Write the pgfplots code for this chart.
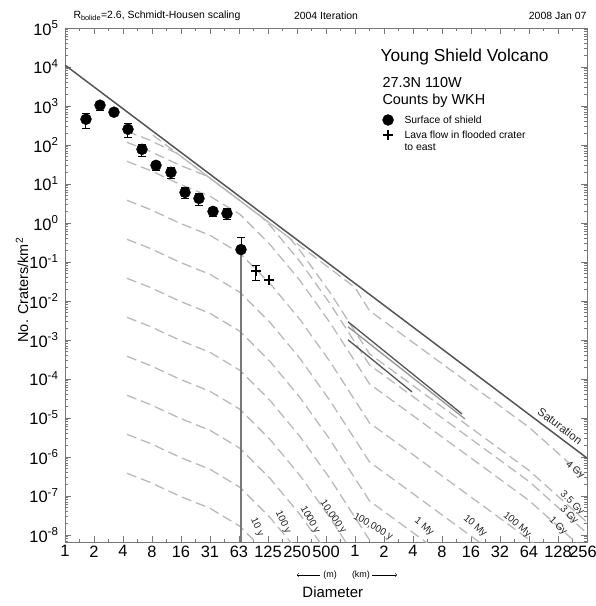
\documentclass[border=0pt]{standalone}
\usepackage{fontspec}
\setmainfont{Liberation Sans}
\usepackage{pgfplots}
\usepackage{pgfplotstable}
\pgfplotsset{compat=1.18}
\definecolor{isogray}{RGB}{185,185,185}
\definecolor{framegray}{RGB}{120,120,120}
\definecolor{satgray}{RGB}{85,85,85}

% surface of shield: D (km), N (per km^2), error plus / minus
\pgfplotstableread{
D N ep em
0.001613 458 197 197
0.002255 1049 280 280
0.003150 693 130 130
0.004401 253 101 101
0.006152 77.5 27.5 27.5
0.008596 30.1 7.8 7.8
0.01230 19.9 6.25 6.25
0.01720 6.08 1.91 1.91
0.02402 4.26 1.38 1.38
0.03357 1.98 0.49 0.49
0.04691 1.75 0.535 0.535
0.06557 0.208 0.208 0
}\shield

% lava flow in flooded crater
\pgfplotstableread{
D N ep em
0.09316 0.0577 0.024 0.024
}\lavaA
\pgfplotstableread{
D N
0.1289 0.0353
}\lavaB

\begin{document}
\begin{tikzpicture}
\begin{axis}[
  scale only axis,
  width=522bp, height=514bp,
  xmode=log, ymode=log,
  xmin=0.0009765625, xmax=256,
  ymin=6.6e-9, ymax=1e5,
  clip mode=individual,
  axis line style={framegray, line width=0.8bp},
  every tick/.style={framegray, line width=0.6bp},
  major tick length=6bp, minor tick length=3bp,
  xtick={0.0009765625,0.001953125,0.00390625,0.0078125,0.015625,0.03125,0.0625,0.125,0.25,0.5,1,2,4,8,16,32,64,128,256},
  xticklabels={1,2,4,8,16,31,63,125,250,500,1,2,4,8,16,32,64,128,{\kern-8bp 256}},
  minor xtick={0.0013810679,0.0027621359,0.0055242717,0.0110485435,0.0220970869,0.0441941738,0.0883883476,0.1767766953,0.3535533906,0.7071067812,1.4142135624,2.8284271247,5.6568542495,11.313708499,22.627416998,45.254833996,90.509667992,181.01933598},
  ytick={1e-8,1e-7,1e-6,1e-5,1e-4,1e-3,1e-2,1e-1,1,10,100,1000,1e4,1e5},
  minor ytick={7e-9,8e-9,9e-9,
    2e-8,3e-8,4e-8,5e-8,6e-8,7e-8,8e-8,9e-8,
    2e-7,3e-7,4e-7,5e-7,6e-7,7e-7,8e-7,9e-7,
    2e-6,3e-6,4e-6,5e-6,6e-6,7e-6,8e-6,9e-6,
    2e-5,3e-5,4e-5,5e-5,6e-5,7e-5,8e-5,9e-5,
    2e-4,3e-4,4e-4,5e-4,6e-4,7e-4,8e-4,9e-4,
    2e-3,3e-3,4e-3,5e-3,6e-3,7e-3,8e-3,9e-3,
    0.02,0.03,0.04,0.05,0.06,0.07,0.08,0.09,
    0.2,0.3,0.4,0.5,0.6,0.7,0.8,0.9,
    2,3,4,5,6,7,8,9,
    20,30,40,50,60,70,80,90,
    200,300,400,500,600,700,800,900,
    2000,3000,4000,5000,6000,7000,8000,9000,
    2e4,3e4,4e4,5e4,6e4,7e4,8e4,9e4},
  yticklabels={10\textsuperscript{-8},10\textsuperscript{-7},10\textsuperscript{-6},10\textsuperscript{-5},10\textsuperscript{-4},10\textsuperscript{-3},10\textsuperscript{-2},10\textsuperscript{-1},10\textsuperscript{0},10\textsuperscript{1},10\textsuperscript{2},10\textsuperscript{3},10\textsuperscript{4},10\textsuperscript{5}},
  ticklabel style={font=\fontsize{16.5}{18}\selectfont, text=black},
  yticklabel style={xshift=-3bp},
  legend style={at={(rel axis cs:0.608,0.8327)}, anchor=north west, draw=none, fill=none,
    inner sep=0pt, font=\fontsize{10.4}{12}\selectfont, row sep=1bp, column sep=9bp,
    cells={anchor=base west}},
  legend image code/.code={\draw[#1] plot coordinates {(0bp,3.7bp)};},
  iso/.style={isogray, line width=1.3bp, dash pattern=on 10bp off 5bp, forget plot},
]

% isochrons
\addplot[iso] coordinates {(0.004298,3.811e-7) (0.007448,2.237e-7) (0.015256,9.824e-8) (0.03125,4.829e-8) (0.064013,1.664e-8) (0.131125,2.818e-9)}; % 10 y
\addplot[iso] coordinates {(0.004298,3.811e-6) (0.007448,2.237e-6) (0.015256,9.824e-7) (0.03125,4.829e-7) (0.064013,1.664e-7) (0.131125,2.818e-8) (0.268575,3.344e-9)}; % 100 y
\addplot[iso] coordinates {(0.004298,3.811e-5) (0.007448,2.237e-5) (0.015256,9.824e-6) (0.03125,4.829e-6) (0.064013,1.664e-6) (0.131125,2.818e-7) (0.268575,3.344e-8) (0.55015,2.784e-9)}; % 1000 y
\addplot[iso] coordinates {(0.004298,3.811e-4) (0.007448,2.237e-4) (0.015256,9.824e-5) (0.03125,4.829e-5) (0.064013,1.664e-5) (0.131125,2.818e-6) (0.268575,3.344e-7) (0.55015,2.784e-8) (1,2.818e-9)}; % 10,000 y
\addplot[iso] coordinates {(0.004298,3.811e-3) (0.007448,2.237e-3) (0.015256,9.824e-4) (0.03125,4.829e-4) (0.064013,1.664e-4) (0.131125,2.818e-5) (0.268575,3.344e-6) (0.55015,2.784e-7) (1,2.818e-8) (1.414214,7.482e-9) (2.9314,2.011e-9)}; % 100,000 y
\addplot[iso] coordinates {(0.004298,0.03811) (0.007448,0.02237) (0.015256,9.824e-3) (0.03125,4.829e-3) (0.064013,1.664e-3) (0.131125,2.818e-4) (0.268575,3.344e-5) (0.55015,2.784e-6) (1,2.818e-7) (1.414214,7.482e-8) (2.9314,2.011e-8) (9.6856,2.317e-9)}; % 1 My
\addplot[iso] coordinates {(0.004298,0.3811) (0.007448,0.2237) (0.015256,0.09824) (0.03125,0.04829) (0.064013,0.01664) (0.131125,2.818e-3) (0.268575,3.344e-4) (0.55015,2.784e-5) (1,2.818e-6) (1.414214,7.482e-7) (2.9314,2.011e-7) (9.6856,2.317e-8) (32,2.687e-9)}; % 10 My
\addplot[iso] coordinates {(0.004298,3.811) (0.007448,2.237) (0.015256,0.9824) (0.03125,0.4829) (0.064013,0.1664) (0.131125,0.02818) (0.268575,3.344e-3) (0.55015,2.784e-4) (1,2.818e-5) (1.414214,7.482e-6) (2.9314,2.011e-6) (9.6856,2.317e-7) (32,2.687e-8) (64,7.661e-9) (134.27,1.495e-9)}; % 100 My
\addplot[iso] coordinates {(0.004298,38.11) (0.007448,22.37) (0.015256,9.824) (0.03125,4.829) (0.064013,1.664) (0.131125,0.2818) (0.268575,0.03344) (0.55015,2.784e-3) (1,2.818e-4) (1.414214,7.482e-5) (2.9314,2.011e-5) (9.6856,2.317e-6) (32,2.687e-7) (64,7.661e-8) (134.27,1.495e-8) (256,3.592e-9)}; % 1 Gy
\addplot[iso] coordinates {(0.004298,117.3) (0.007448,68.86) (0.015256,30.22) (0.02948,15.74) (0.03125,14.13) (0.064013,3.722) (0.10719,1.427) (0.131125,0.8669) (0.268575,0.1029) (0.55015,8.566e-3) (1,8.669e-4) (1.414214,2.301e-4) (2.9314,6.185e-5) (9.6856,7.129e-6) (32,8.267e-7) (64,2.357e-7) (134.27,4.601e-8) (256,1.105e-8)}; % 3 Gy
\addplot[iso] coordinates {(0.004298,225.0) (0.007448,132.1) (0.01423,61.00) (0.015256,53.58) (0.03125,14.13) (0.064013,3.722) (0.131125,0.9808) (0.21068,0.4062) (0.268575,0.1974) (0.55015,0.01643) (1,1.663e-3) (1.414214,4.416e-4) (2.9314,1.187e-4) (9.6856,1.368e-5) (32,1.586e-6) (64,4.521e-7) (134.27,8.829e-8) (256,2.12e-8)}; % 3.5 Gy
\addplot[iso] coordinates {(0.007977,178.9) (0.015256,53.58) (0.03125,14.13) (0.064013,3.722) (0.131125,0.9808) (0.268575,0.2585) (0.55015,0.06816) (1,0.0222) (1.414214,5.636e-3) (2.9314,1.515e-3) (9.6856,1.746e-4) (32,2.025e-5) (64,5.772e-6) (134.27,1.127e-6) (256,2.706e-7)}; % 4 Gy

% saturation
\addplot[satgray, line width=1.5bp, forget plot] coordinates {(0.0009765625,11200) (256,9.37e-7)};

% other counts (solid)
\addplot[isogray!80!black, line width=1.3bp, forget plot] coordinates {(0.8459,2.184e-3) (13.862,9.426e-6)};
\addplot[satgray, line width=1.3bp, forget plot] coordinates {(0.8459,2.938e-3) (12.904,1.267e-5)};
\addplot[satgray, line width=1.3bp, forget plot] coordinates {(0.8459,1.012e-3) (3.9056,4.661e-5)};

% lower error of the single-crater bin reaches zero
\addplot[framegray, line width=1.5bp, forget plot] coordinates {(0.06557,6.6e-9) (0.06557,0.208)};

% data
\addplot[only marks, mark=*, mark size=5.5bp, black,
  error bars/.cd, y dir=both, y explicit,
  error bar style={black, line width=1bp},
  error mark options={rotate=90, black, mark size=4bp, line width=1bp}]
  table[x=D, y=N, y error plus=ep, y error minus=em] {\shield};
\addlegendentry{Surface of shield}
\addplot[only marks, mark=+, mark size=5bp, black, line width=2bp,
  error bars/.cd, y dir=both, y explicit,
  error bar style={black, line width=1bp},
  error mark options={rotate=90, black, mark size=4bp, line width=1bp}]
  table[x=D, y=N, y error plus=ep, y error minus=em] {\lavaA};
\addlegendentry{\begin{tabular}[t]{@{}l@{}}Lava flow in flooded crater\\to east\end{tabular}}
\addplot[only marks, mark=+, mark size=5bp, black, line width=2bp, forget plot]
  table[x=D, y=N] {\lavaB};

% texts
\node[anchor=west, font=\fontsize{10.5}{12}\selectfont] at (rel axis cs:0.0096,1.0233) {R\textsubscript{bolide}=2.6, Schmidt-Housen scaling};
\node[font=\fontsize{10.5}{12}\selectfont] at (rel axis cs:0.5,1.0233) {2004 Iteration};
\node[anchor=east, font=\fontsize{10.5}{12}\selectfont] at (rel axis cs:1.0057,1.0233) {2008 Jan 07};
\node[anchor=west, font=\fontsize{17.4}{19}\selectfont] at (rel axis cs:0.5977,0.9436) {Young Shield Volcano};
\node[anchor=west, font=\fontsize{14.5}{16}\selectfont] at (rel axis cs:0.6015,0.893) {27.3N 110W};
\node[anchor=west, font=\fontsize{14.5}{16}\selectfont] at (rel axis cs:0.6015,0.858) {Counts by WKH};
\node[rotate=90, font=\fontsize{14.5}{16}\selectfont] at (rel axis cs:-0.0824,0.49) {No. Craters/km\textsuperscript{2}};

\node[font=\fontsize{15}{17}\selectfont] at (rel axis cs:0.513,-0.0973) {Diameter};
\node[font=\fontsize{9}{10}\selectfont] at (rel axis cs:0.5077,-0.0642) {(m)};
\node[font=\fontsize{9}{10}\selectfont] at (rel axis cs:0.567,-0.0642) {(km)};
\draw[->, black, line width=0.5bp] (rel axis cs:0.4885,-0.0642) -- (rel axis cs:0.4444,-0.0642);
\draw[->, black, line width=0.5bp] (rel axis cs:0.5881,-0.0642) -- (rel axis cs:0.636,-0.0642);

\begin{scope}[every node/.style={font=\fontsize{10}{12}\selectfont, text=black!85, inner sep=1bp}]
\node[rotate=-65] at (rel axis cs:0.3678,0.0292) {10 y};
\node[rotate=-65] at (rel axis cs:0.4176,0.0389) {100 y};
\node[rotate=-60] at (rel axis cs:0.4693,0.0428) {1000 y};
\node[rotate=-55] at (rel axis cs:0.5134,0.0486) {10,000 y};
\node[rotate=-30] at (rel axis cs:0.5900,0.0292) {100,000 y};
\node[rotate=-40] at (rel axis cs:0.6877,0.0292) {1 My};
\node[rotate=-40] at (rel axis cs:0.7854,0.0311) {10 My};
\node[rotate=-40] at (rel axis cs:0.8659,0.0331) {100 My};
\node[rotate=-45] at (rel axis cs:0.9444,0.0311) {1 Gy};
\node[rotate=-45] at (rel axis cs:0.9655,0.0525) {3 Gy};
\node[rotate=-45] at (rel axis cs:0.9713,0.0759) {3.5 Gy};
\node[rotate=-40] at (rel axis cs:0.9770,0.1401) {4 Gy};
\node[rotate=-37, font=\fontsize{11.5}{13}\selectfont] at (rel axis cs:0.9483,0.2257) {Saturation};
\end{scope}
\end{axis}
\pgfresetboundingbox
\path ([shift={(-65bp,-64bp)}]current axis.south west) rectangle ([shift={(9bp,28bp)}]current axis.north east);
\end{tikzpicture}
\end{document}
